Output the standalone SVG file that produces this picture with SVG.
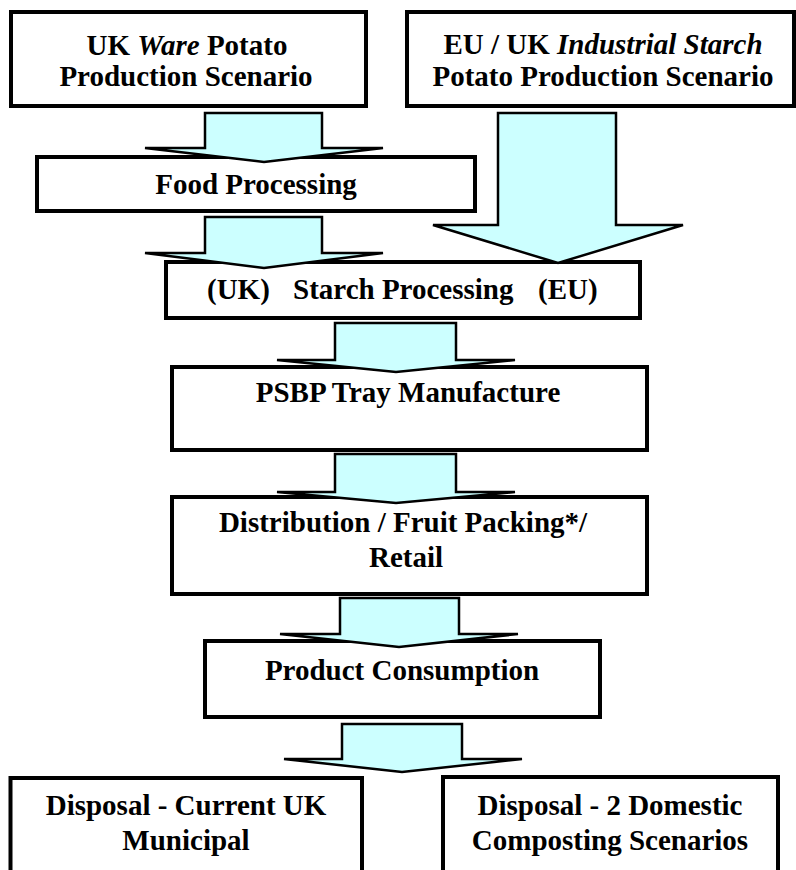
<svg xmlns="http://www.w3.org/2000/svg" width="796" height="870" viewBox="0 0 796 870">
<style>
.box{fill:#fff;stroke:#000;stroke-width:4}
.arr{fill:#CCFFFF;stroke:#000;stroke-width:2.5;stroke-linejoin:miter}
.t{font-family:'Liberation Serif','Times New Roman','DejaVu Serif',serif;font-weight:bold;font-size:29px;fill:#000}
.c{text-anchor:middle}
</style>
<rect width="796" height="870" fill="#fff"/>
<g id="n1"><rect class="box" x="11" y="12" width="355" height="94"/>
<text class="t c" x="187" y="55">UK <tspan font-style="italic">Ware</tspan> Potato</text>
<text class="t c" x="186" y="86">Production Scenario</text></g>
<g id="n2"><rect class="box" x="407" y="12" width="387" height="94"/>
<text class="t c" x="603" y="54">EU / UK <tspan font-style="italic">Industrial Starch</tspan></text>
<text class="t c" x="603" y="86">Potato Production Scenario</text></g>
<g id="n3"><rect class="box" x="37" y="157" width="438" height="54"/>
<text class="t c" x="256" y="194">Food Processing</text></g>
<g id="n4"><rect class="box" x="166" y="262" width="474" height="56"/>
<text class="t" y="299"><tspan x="207">(UK)</tspan><tspan x="293">Starch Processing</tspan><tspan x="538">(EU)</tspan></text></g>
<g id="n5"><rect class="box" x="172" y="367" width="475" height="83"/>
<text class="t c" x="408" y="402">PSBP Tray Manufacture</text></g>
<g id="n6"><rect class="box" x="172" y="497" width="475" height="97"/>
<text class="t c" x="403" y="532">Distribution / Fruit Packing*/</text>
<text class="t c" x="406" y="567">Retail</text></g>
<g id="n7"><rect class="box" x="205" y="641" width="395" height="76"/>
<text class="t c" x="402" y="680">Product Consumption</text></g>
<g id="n8"><rect class="box" x="10.5" y="778" width="351.5" height="110"/>
<text class="t c" x="186" y="815">Disposal - Current UK</text>
<text class="t c" x="186" y="850">Municipal</text></g>
<g id="n9"><rect class="box" x="443" y="777" width="335" height="110"/>
<text class="t c" x="610" y="815">Disposal - 2 Domestic</text>
<text class="t c" x="610" y="850">Composting Scenarios</text></g>
<g id="connectors">
<path class="arr" d="M205,113 H322 V148 H383 L264,162 L145,148 H205 Z"/>
<path class="arr" d="M498,113 H616 V225 H683 L558,263 L433,225 H498 Z"/>
<path class="arr" d="M205,217 H322 V253 H383 L264,268 L145,253 H205 Z"/>
<path class="arr" d="M335,323 H456 V360 H515 L396,372 L277,360 H335 Z"/>
<path class="arr" d="M335,454 H456 V492 H515 L396,503 L277,492 H335 Z"/>
<path class="arr" d="M340,598 H459 V634 H518 L399,647 L280,634 H340 Z"/>
<path class="arr" d="M342,724 H462 V759 H522 L402,772 L284,759 H342 Z"/>
</g>
</svg>
